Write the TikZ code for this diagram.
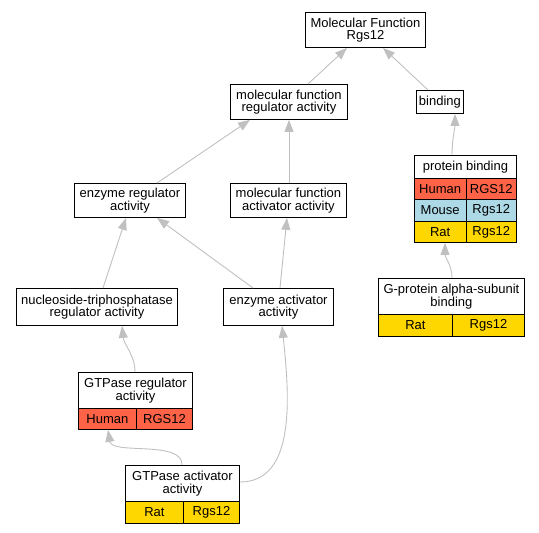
\documentclass[tikz,border=0pt]{standalone}
\usepackage{fontspec}
\setmainfont{Liberation Sans}
\usetikzlibrary{arrows.meta,calc}
\definecolor{edgegray}{HTML}{C0C0C0}
\definecolor{human}{HTML}{FF6347}
\definecolor{mouse}{HTML}{ADD8E6}
\definecolor{rat}{HTML}{FFD700}
\begin{document}
\begin{tikzpicture}[x=1pt,y=-1pt,
  box/.style={draw=black,line width=0.9pt,fill=white,inner sep=0pt,align=center,
    font=\fontsize{13}{12.6}\selectfont,anchor=north west},
  cell/.style={box},
  edge/.style={draw=edgegray,line width=0.9pt,-{Triangle[length=12pt,width=9pt,fill=edgegray]}}
]
\useasboundingbox (0,0) rectangle (539,533);
% plain nodes
\node[box,minimum width=120pt,minimum height=35pt] (mf) at (305,12) {Molecular Function\\Rgs12};
\node[box,minimum width=117pt,minimum height=35pt] (mfr) at (230,84) {molecular function\\regulator activity};
\node[box,minimum width=47pt,minimum height=23pt] (bind) at (416,90) {binding};
\node[box,minimum width=111pt,minimum height=34pt] (er) at (74,183) {enzyme regulator\\activity};
\node[box,minimum width=116pt,minimum height=34pt] (mfa) at (230,183) {molecular function\\activator activity};
\node[box,minimum width=161pt,minimum height=37pt] (ntr) at (16,288) {nucleoside-triphosphatase\\regulator activity};
\node[box,minimum width=110pt,minimum height=37pt] (ea) at (223,288) {enzyme activator\\activity};
% protein binding table
\node[box,minimum width=102pt,minimum height=23pt] (pb) at (414,155) {protein binding};
\node[cell,fill=human,minimum width=51.5pt,minimum height=21pt] (pbh1) at (414,178) {Human};
\node[cell,fill=human,minimum width=50.5pt,minimum height=21pt] (pbh2) at (465.5,178) {RGS12};
\node[cell,fill=mouse,minimum width=51.5pt,minimum height=22pt] (pbm1) at (414,199) {Mouse};
\node[cell,fill=mouse,minimum width=50.5pt,minimum height=22pt] (pbm2) at (465.5,199) {Rgs12};
\node[cell,fill=rat,minimum width=51.5pt,minimum height=21pt] (pbr1) at (414,221) {Rat};
\node[cell,fill=rat,minimum width=50.5pt,minimum height=21pt] (pbr2) at (465.5,221) {Rgs12};
% G-protein alpha-subunit binding table
\node[box,minimum width=146pt,minimum height=36pt] (gp) at (378,278) {G-protein alpha-subunit\\binding};
\node[cell,fill=rat,minimum width=74pt,minimum height=22pt] (gpr1) at (378,314) {Rat};
\node[cell,fill=rat,minimum width=72pt,minimum height=22pt] (gpr2) at (452,314) {Rgs12};
% GTPase regulator activity table
\node[box,minimum width=114pt,minimum height=36pt] (gr) at (78,372) {GTPase regulator\\activity};
\node[cell,fill=human,minimum width=58pt,minimum height=21pt] (grh1) at (78,408) {Human};
\node[cell,fill=human,minimum width=56pt,minimum height=21pt] (grh2) at (136,408) {RGS12};
% GTPase activator activity table
\node[box,minimum width=114pt,minimum height=36pt] (ga) at (125,465) {GTPase activator\\activity};
\node[cell,fill=rat,minimum width=58pt,minimum height=22pt] (gar1) at (125,501) {Rat};
\node[cell,fill=rat,minimum width=56pt,minimum height=22pt] (gar2) at (183,501) {Rgs12};
% edges
\draw[edge] ($(mfr.north west)+(78,0)$) -- ($(mf.south west)+(42,0)$);
\draw[edge] ($(bind.north west)+(12,0)$) -- ($(mf.south west)+(78,0)$);
\draw[edge] ($(pb.north west)+(38,0)$) .. controls (452,140) and (455,128) .. ($(bind.south west)+(39,0)$);
\draw[edge] ($(er.north west)+(83,0)$) -- ($(mfr.south west)+(20,0)$);
\draw[edge] ($(mfa.north west)+(59,0)$) -- ($(mfr.south west)+(59,0)$);
\draw[edge] ($(ntr.north west)+(87,0)$) -- ($(er.south west)+(52,0)$);
\draw[edge] ($(ea.north west)+(30,0)$) -- ($(er.south west)+(83,0)$);
\draw[edge] ($(ea.north west)+(57,0)$) -- ($(mfa.south west)+(57,0)$);
\draw[edge] ($(gr.north west)+(57,0)$) .. controls (135,355) and (124,345) .. ($(ntr.south west)+(106,0)$);
\draw[edge] ($(ga.north west)+(57,0)$) .. controls (183,440) and (112,455) .. ($(grh1.south west)+(30,0)$);
\draw[edge] ($(ga.north east)+(0,17)$) .. controls (295,482) and (290,400) .. ($(ea.south west)+(59,0)$);
\draw[edge] ($(gp.north west)+(74,0)$) .. controls (452,265) and (445,258) .. ($(pbr1.south west)+(31,0)$);
\end{tikzpicture}
\end{document}
